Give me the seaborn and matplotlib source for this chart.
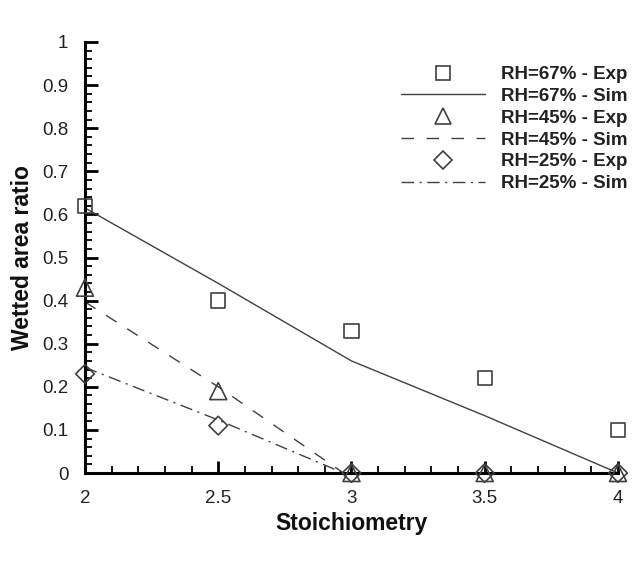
import numpy as np
import pandas as pd
import matplotlib
matplotlib.use("Agg")
import matplotlib.pyplot as plt
from matplotlib.lines import Line2D
from matplotlib.ticker import MultipleLocator
import seaborn as sns

# ---- data ----
stoich = [2.0, 2.5, 3.0, 3.5, 4.0]
exp_rh67 = [0.62, 0.40, 0.33, 0.22, 0.10]
exp_rh45 = [0.43, 0.19, 0.0, 0.0, 0.0]
exp_rh25 = [0.23, 0.11, 0.0, 0.0, 0.0]

sim67_x = [2.0, 2.5, 3.0, 3.5, 4.0]
sim67_y = [0.615, 0.44, 0.26, 0.133, 0.0]
sim45_x = [2.0, 2.5, 2.97]
sim45_y = [0.397, 0.20, 0.0]
sim25_x = [2.0, 2.5, 2.97]
sim25_y = [0.245, 0.123, 0.0]

labels = ["RH=67% - Exp", "RH=67% - Sim", "RH=45% - Exp",
          "RH=45% - Sim", "RH=25% - Exp", "RH=25% - Sim"]
x_ticks = [2, 2.5, 3, 3.5, 4]
x_ticklabels = ["2", "2.5", "3", "3.5", "4"]
y_ticks = [0, 0.1, 0.2, 0.3, 0.4, 0.5, 0.6, 0.7, 0.8, 0.9, 1.0]
y_ticklabels = ["0", "0.1", "0.2", "0.3", "0.4", "0.5", "0.6", "0.7", "0.8", "0.9", "1"]

sns.set_theme(style="white")
plt.rcParams["font.family"] = ["Liberation Sans", "DejaVu Sans"]

fig = plt.figure(figsize=(6.36, 5.66), dpi=100)
ax = fig.add_axes([0.1336, 0.1643, 0.8381, 0.7615])

lc = "#404040"
mc = "#404040"

sns.lineplot(x=sim67_x, y=sim67_y, ax=ax, color=lc, lw=1.0, linestyle="-")
sns.lineplot(x=sim45_x, y=sim45_y, ax=ax, color=lc, lw=1.0)
ax.lines[-1].set_dashes([9, 9])
sns.lineplot(x=sim25_x, y=sim25_y, ax=ax, color=lc, lw=1.0)
ax.lines[-1].set_dashes([9, 4, 1.5, 4])

for yv, mk, sz in [(exp_rh67, "s", 105), (exp_rh45, "^", 150), (exp_rh25, "D", 90)]:
    sns.scatterplot(x=stoich, y=yv, ax=ax, marker=mk, s=sz, facecolor="none",
                    edgecolor=mc, linewidth=1.2, clip_on=False, zorder=4)

ax.set_xlim(2, 4)
ax.set_ylim(0, 1)
ax.set_xticks(x_ticks)
ax.set_xticklabels(x_ticklabels)
ax.set_yticks(y_ticks)
ax.set_yticklabels(y_ticklabels)
ax.xaxis.set_minor_locator(MultipleLocator(0.1))
ax.yaxis.set_minor_locator(MultipleLocator(0.02))
ax.tick_params(axis="both", which="major", direction="in", length=9, width=2,
               color="black", labelsize=13.5, labelcolor="#222222", pad=12,
               bottom=True, left=True)
ax.tick_params(axis="both", which="minor", direction="in", length=5, width=1.3,
               color="black", bottom=True, left=True)
for s in ["top", "right"]:
    ax.spines[s].set_visible(False)
for s in ["left", "bottom"]:
    ax.spines[s].set_linewidth(2.2)
    ax.spines[s].set_color("black")

ax.set_xlabel("Stoichiometry", fontsize=16.5, fontweight="bold", labelpad=4,
              color="#111111")
ax.set_ylabel("Wetted area ratio", fontsize=16.5, fontweight="bold", labelpad=6,
              color="#111111")

handles = [
    Line2D([], [], ls="none", marker="s", ms=10, mfc="none", mec=mc, mew=1.2),
    Line2D([], [], ls="-", color=lc, lw=1.0),
    Line2D([], [], ls="none", marker="^", ms=12, mfc="none", mec=mc, mew=1.2),
    Line2D([], [], ls=(0, (9, 9)), color=lc, lw=1.0),
    Line2D([], [], ls="none", marker="D", ms=9, mfc="none", mec=mc, mew=1.2),
    Line2D([], [], ls=(0, (9, 4, 1.5, 4)), color=lc, lw=1.0),
]
leg = fig.legend(handles, labels, loc="upper left",
                 bbox_to_anchor=(401 / 636, 1 - 66 / 566),
                 bbox_transform=fig.transFigure,
                 frameon=False, borderpad=0, borderaxespad=0,
                 handlelength=4.5, handletextpad=0.85,
                 labelspacing=0.25, prop={"weight": "bold", "size": 13.5})
for t in leg.get_texts():
    t.set_color("#222222")

fig.savefig("out.png", dpi=100)
